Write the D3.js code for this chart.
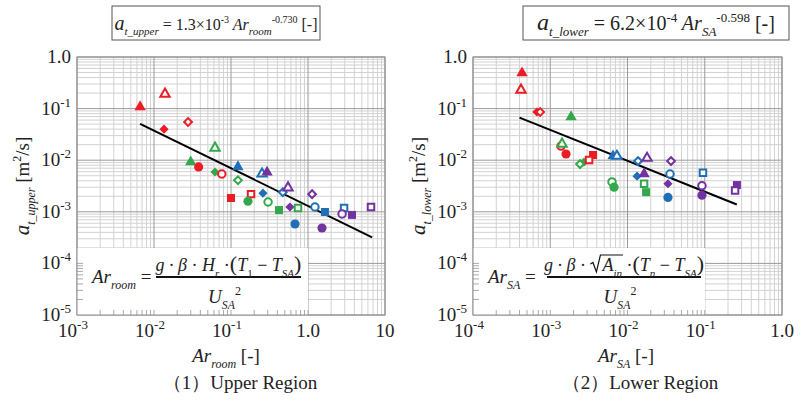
<!DOCTYPE html>
<html>
<head>
<meta charset="utf-8">
<script src="https://cdn.jsdelivr.net/npm/d3@7"></script>
<style>
body { margin: 0; background: #fff; }
svg { display: block; }
text { white-space: pre; font-family: "Liberation Serif", "Times New Roman", Tinos, "DejaVu Serif", serif; }
</style>
</head>
<body>
<div id="chart"></div>
<script>
// ---- data ----
// colour keys: r, g, b, p ; shapes: tri, dia, cir, sq ; open: 1 = hollow marker
const upperAr    = [0.0066, 0.0139, 0.0135, 0.0277, 0.062, 0.030, 0.038, 0.062, 0.076, 0.123, 0.123, 0.100, 0.182, 0.166, 0.253, 0.294,
                    0.26, 0.303, 0.42, 0.47, 0.55, 0.583, 0.741, 0.678, 1.13, 1.23, 1.66, 1.52, 2.94, 2.77, 3.73, 6.58];
const upperAt    = [0.103, 0.184, 0.040, 0.055, 0.0165, 0.0088, 0.0074, 0.0059, 0.0054, 0.0071, 0.0041, 0.00185, 0.0022, 0.0016, 0.0052, 0.0056,
                    0.0023, 0.00155, 0.00108, 0.0024, 0.0028, 0.00124, 0.00119, 0.00058, 0.0022, 0.00124, 0.00099, 0.000485, 0.00119, 0.00091, 0.00087, 0.00124];
const upperColor = ['r','r','r','r','g','g','r','g','r','b','g','r','r','g','b','p','b','g','g','b','p','p','g','b','p','b','b','p','b','p','p','p'];
const upperShape = ['tri','tri','dia','dia','tri','tri','cir','dia','cir','tri','dia','sq','sq','cir','tri','tri','dia','cir','sq','dia','tri','dia','sq','cir','dia','cir','sq','cir','sq','cir','sq','sq'];
const upperOpen  = [0,1,0,1,1,0,0,0,1,0,1,0,1,0,1,0,0,1,0,1,1,0,1,0,1,1,0,0,1,1,0,1];

const lowerAr    = [4.31e-4, 4.18e-4, 6.7e-4, 7.4e-4, 1.38e-3, 1.42e-3, 1.60e-3, 1.86e-3, 2.73e-3, 2.43e-3, 3.58e-3, 3.18e-3, 6.5e-3, 7.3e-3, 0.0137,
                    0.0179, 0.0133, 0.0164, 6.3e-3, 6.7e-3, 0.0164, 0.0174, 0.0366, 0.0355, 0.0334, 0.0334, 0.0948, 0.092, 0.092, 0.261, 0.247];
const lowerAt    = [0.469, 0.219, 0.086, 0.086, 0.0188, 0.0197, 0.0132, 0.066, 0.0092, 0.0084, 0.0126, 0.0101, 0.0115, 0.0115, 0.0096,
                    0.0105, 0.0049, 0.0052, 0.0038, 0.0030, 0.0035, 0.0024, 0.0096, 0.0054, 0.0035, 0.0019, 0.0057, 0.0032, 0.0021, 0.0033, 0.0026];
const lowerColor = ['r','r','r','r','r','g','r','g','g','g','r','r','b','b','b','p','b','p','g','g','g','g','p','b','p','b','b','p','p','p','p'];
const lowerShape = ['tri','tri','dia','dia','cir','tri','cir','tri','dia','dia','sq','sq','tri','tri','dia','tri','dia','tri','cir','cir','sq','sq','dia','cir','dia','cir','sq','cir','cir','sq','sq'];
const lowerOpen  = [0,1,0,1,1,1,0,0,0,1,0,1,0,1,1,1,0,0,1,0,1,0,1,1,0,0,1,1,0,0,1];

// fitted power laws (coefficient, exponent, x range of the drawn line)
const upperFit = [1.3e-3, -0.730];
const upperFitRange = [0.0066, 6.8];
const lowerFit = [6.2e-4, -0.598];
const lowerFitRange = [4.0e-4, 0.26];

const upperXTicks = [['10','-3'], ['10','-2'], ['10','-1'], ['1.0',''], ['10','']];
const lowerXTicks = [['10','-4'], ['10','-3'], ['10','-2'], ['10','-1'], ['1.0','']];
const yTicks = [['1.0',''], ['10','-1'], ['10','-2'], ['10','-3'], ['10','-4'], ['10','-5']];

const colors = { r: '#ec1c24', g: '#33a84b', b: '#1f6fb7', p: '#7232a0' };

const svg = d3.select('#chart').append('svg')
    .attr('width', 811)
    .attr('height', 401);

// rich text: segments [text, italic, pos('sub'|'sup'|''), size?, dx?]
function rich(sel, x, y, size, segs, anchor) {
    const t = sel.append('text')
        .attr('x', x).attr('y', y)
        .attr('font-size', size)
        .attr('fill', '#222')
        .attr('text-anchor', anchor || 'start');
    let off = 0;
    segs.forEach(s => {
        const pos = s[2] || '';
        const target = pos === 'sub' ? size * 0.32 : pos === 'sup' ? -size * 0.42 : 0;
        const ts = t.append('tspan')
            .text(s[0])
            .attr('dy', target - off)
            .attr('font-size', s[3] || (pos ? size * 0.62 : size));
        if (s[1]) ts.attr('font-style', 'italic');
        if (s[4]) ts.attr('dx', s[4]);
        off = target;
    });
    return t;
}

function drawPanel(p) {
    const x = d3.scaleLog().domain(p.xDomain).range([p.x0, p.x1]);
    const y = d3.scaleLog().domain([1e-5, 1]).range([p.y1, p.y0]);
    const g = svg.append('g');

    const gridVals = dom => {
        const out = [];
        const lo = Math.round(Math.log10(dom[0])), hi = Math.round(Math.log10(dom[1]));
        for (let d = lo; d < hi; d++) {
            for (let k = 1; k <= 9; k++) out.push({ v: k * Math.pow(10, d), major: k === 1 });
        }
        out.push({ v: dom[1], major: true });
        return out;
    };
    const gx = gridVals(p.xDomain);
    const gy = gridVals([1e-5, 1]);

    // minor then major grid
    [false, true].forEach(maj => {
        g.selectAll(null).data(gx.filter(d => d.major === maj)).enter().append('line')
            .attr('x1', d => x(d.v)).attr('x2', d => x(d.v))
            .attr('y1', p.y0).attr('y2', p.y1)
            .attr('stroke', maj ? '#9a9a9a' : '#d2d2d2').attr('stroke-width', 1);
        g.selectAll(null).data(gy.filter(d => d.major === maj)).enter().append('line')
            .attr('y1', d => y(d.v)).attr('y2', d => y(d.v))
            .attr('x1', p.x0).attr('x2', p.x1)
            .attr('stroke', maj ? '#9a9a9a' : '#d2d2d2').attr('stroke-width', 1);
    });

    // white box holding the Ar definition
    g.append('rect')
        .attr('x', p.x0).attr('y', p.boxTop)
        .attr('width', p.boxRight - p.x0).attr('height', p.y1 - p.boxTop)
        .attr('fill', '#fff');
    g.selectAll(null).data(gx.filter(d => x(d.v) < p.boxRight && d.v > p.xDomain[0])).enter().append('line')
        .attr('x1', d => x(d.v)).attr('x2', d => x(d.v))
        .attr('y1', p.y1 - 5).attr('y2', p.y1)
        .attr('stroke', '#aaa');
    g.selectAll(null).data(gy.filter(d => y(d.v) > p.boxTop && d.v > 1e-5)).enter().append('line')
        .attr('y1', d => y(d.v)).attr('y2', d => y(d.v))
        .attr('x1', p.x0).attr('x2', p.x0 + 6)
        .attr('stroke', '#aaa');

    // frame
    g.append('rect')
        .attr('x', p.x0).attr('y', p.y0)
        .attr('width', p.x1 - p.x0).attr('height', p.y1 - p.y0)
        .attr('fill', 'none').attr('stroke', '#8a8a8a');

    // tick labels
    const xTickVals = gx.filter(d => d.major).map(d => d.v);
    xTickVals.forEach((v, i) => {
        const lab = p.xTicks[i];
        rich(g, x(v) + (lab[1] ? -4 : 0), p.y1 + 22, 19, [[lab[0]], [lab[1], 0, 'sup', 13]], 'middle');
    });
    const yTickVals = [1, 1e-1, 1e-2, 1e-3, 1e-4, 1e-5];
    yTickVals.forEach((v, i) => {
        const lab = yTicks[i];
        rich(g, p.x0 - 6, y(v) + 6, 19, [[lab[0]], [lab[1], 0, 'sup', 13]], 'end');
    });

    // fitted line
    const fitPts = p.fitRange.map(v => [v, p.fit[0] * Math.pow(v, p.fit[1])]);
    g.append('path')
        .attr('d', d3.line().x(d => x(d[0])).y(d => y(d[1]))(fitPts))
        .attr('stroke', '#000').attr('stroke-width', 2).attr('fill', 'none');

    // markers
    const sym = {
        tri: d3.symbol().type(d3.symbolTriangle),
        dia: d3.symbol().type(d3.symbolSquare),
        cir: d3.symbol().type(d3.symbolCircle),
        sq: d3.symbol().type(d3.symbolSquare)
    };
    const sizeFilled = { tri: 56, dia: 42, cir: 66, sq: 64 };
    const sizeOpen = { tri: 38, dia: 30, cir: 44, sq: 42 };
    const pts = p.xs.map((v, i) => ({ x: v, y: p.ys[i], c: colors[p.cs[i]], s: p.ss[i], o: p.os[i] }));
    g.selectAll(null).data(pts).enter().append('path')
        .attr('d', d => sym[d.s].size(d.o ? sizeOpen[d.s] : sizeFilled[d.s])())
        .attr('transform', d => `translate(${x(d.x)},${y(d.y)})` + (d.s === 'dia' ? ' rotate(45)' : '') + (d.s === 'tri' ? ' translate(0,-1)' : ''))
        .attr('fill', d => d.o ? '#fff' : d.c)
        .attr('stroke', d => d.c)
        .attr('stroke-width', d => d.o ? 2 : 0);

    // formula box title
    g.append('rect')
        .attr('x', p.title.x).attr('y', 6)
        .attr('width', p.title.w).attr('height', 34)
        .attr('fill', '#fff').attr('stroke', '#555');
    rich(g, p.title.x + p.title.w / 2, 30, p.title.size, p.title.segs, 'middle');

    // axis titles
    rich(g, p.xLabel.x, 362, 19, p.xLabel.segs, 'middle');
    rich(g, p.xLabel.x + 14, 389, 19, [[p.caption]], 'middle');
    rich(g, 0, 0, 19, p.yLabel, 'middle')
        .attr('transform', `translate(${p.x0 - 48},186) rotate(-90)`);

    // Ar definition
    rich(g, p.x0 + 15, 283, 19, p.arLeft, 'start');
    g.append('line')
        .attr('x1', p.frac[0]).attr('x2', p.frac[1])
        .attr('y1', 277).attr('y2', 277)
        .attr('stroke', '#111').attr('stroke-width', 2);
    const mid = (p.frac[0] + p.frac[1]) / 2;
    const num = rich(g, mid, 271, 18, p.numerator, 'middle');
    rich(g, mid - 4, 303, 19, [['U', 1], ['SA', 1, 'sub'], ['2', 0, 'sup', 12]], 'middle');
    if (p.sqrtFrom != null) {
        const n = num.node();
        const xa = n.getStartPositionOfChar(p.sqrtFrom).x;
        const xe = n.getEndPositionOfChar(p.sqrtTo).x;
        g.append('path')
            .attr('d', `M${xa - 12},${264} L${xa - 9.5},${262.5} L${xa - 6},${272} L${xa - 2},${255} H${xe + 1}`)
            .attr('fill', 'none').attr('stroke', '#111').attr('stroke-width', 1.2);
    }
}

drawPanel({
    x0: 77, x1: 385, y0: 57, y1: 315,
    xDomain: [1e-3, 10], xTicks: upperXTicks,
    boxTop: 248, boxRight: 308,
    xs: upperAr, ys: upperAt, cs: upperColor, ss: upperShape, os: upperOpen,
    fit: upperFit, fitRange: upperFitRange,
    title: { x: 112, w: 208, size: 16, segs: [['a', 1, '', 20], ['t_upper', 1, 'sub', 11], [' = 1.3×10'], ['-3', 0, 'sup', 10], [' Ar', 1], ['room', 1, 'sub', 11], ['-0.730', 0, 'sup', 10], [' [-]']] },
    xLabel: { x: 226, segs: [['Ar', 1], ['room', 1, 'sub', 12], [' [-]']] },
    caption: '（1）Upper Region',
    yLabel: [['a', 1, '', 21], ['t_upper', 1, 'sub', 12], [' [m'], ['2', 0, 'sup', 12], ['/s]']],
    arLeft: [['Ar', 1], ['room', 1, 'sub', 12], [' =']],
    frac: [156, 301],
    numerator: [['g · ', 1], ['β', 1], [' · '], ['H', 1], ['r', 1, 'sub', 11], [' ·'], ['(', 0, '', 22], ['T', 1], ['1', 0, 'sub', 11], [' − '], ['T', 1], ['SA', 1, 'sub', 11], [')', 0, '', 22]]
});

drawPanel({
    x0: 473, x1: 782, y0: 57, y1: 315,
    xDomain: [1e-4, 1], xTicks: lowerXTicks,
    boxTop: 248, boxRight: 705,
    xs: lowerAr, ys: lowerAt, cs: lowerColor, ss: lowerShape, os: lowerOpen,
    fit: lowerFit, fitRange: lowerFitRange,
    title: { x: 523, w: 266, size: 20, segs: [['a', 1, '', 24], ['t_lower', 1, 'sub', 13], [' = 6.2×10'], ['-4', 0, 'sup', 13], [' Ar', 1], ['SA', 1, 'sub', 13], ['-0.598', 0, 'sup', 13], [' [-]']] },
    xLabel: { x: 626, segs: [['Ar', 1], ['SA', 1, 'sub', 12], [' [-]']] },
    caption: '（2）Lower Region',
    yLabel: [['a', 1, '', 21], ['t_lower', 1, 'sub', 12], [' [m'], ['2', 0, 'sup', 12], ['/s]']],
    arLeft: [['Ar', 1], ['SA', 1, 'sub', 12], [' =']],
    frac: [547, 701],
    numerator: [['g · ', 1], ['β', 1], [' · '], ['A', 1, '', 18, 12], ['in', 1, 'sub', 11], [' ·'], ['(', 0, '', 22], ['T', 1], ['n', 1, 'sub', 11], [' − '], ['T', 1], ['SA', 1, 'sub', 11], [')', 0, '', 22]],
    sqrtFrom: 8, sqrtTo: 10
});
</script>
</body>
</html>
